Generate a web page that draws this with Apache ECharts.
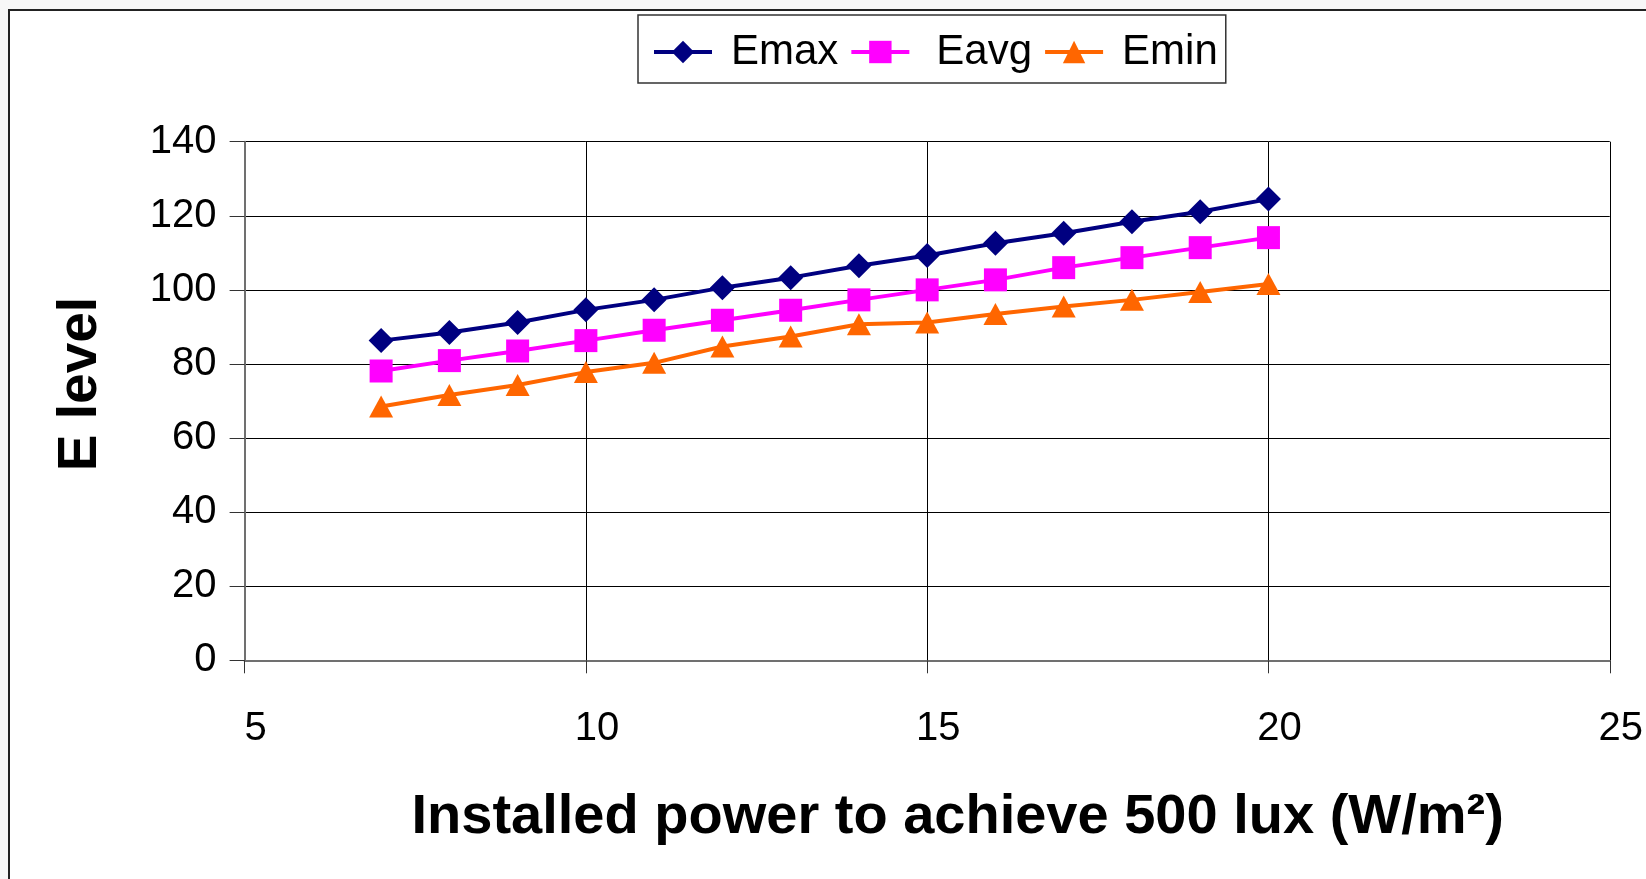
<!DOCTYPE html>
<html>
<head>
<meta charset="utf-8">
<script src="https://cdn.jsdelivr.net/npm/echarts@6/dist/echarts.min.js"></script>
<style>
html,body{margin:0;padding:0;background:#f7f7f7;}
#chart{width:1646px;height:879px;}
</style>
</head>
<body>
<div id="chart"></div>
<script>
const xValues = [7, 8, 9, 10, 11, 12, 13, 14, 15, 16, 17, 18, 19, 20];
const emax = [86.3, 88.5, 91.2, 94.6, 97.3, 100.6, 103.3, 106.5, 109.3, 112.6, 115.3, 118.4, 121.1, 124.5];
const eavg = [78.1, 80.9, 83.5, 86.3, 89.1, 91.8, 94.5, 97.3, 100.0, 102.7, 106.0, 108.7, 111.4, 114.1];
const emin = [68.5, 71.6, 74.3, 77.8, 80.3, 84.7, 87.4, 90.7, 91.2, 93.5, 95.5, 97.3, 99.4, 101.6];
const seriesNames = ['Emax', 'Eavg', 'Emin'];
const xTitle = 'Installed power to achieve 500 lux (W/m\u00B2)';
const yTitle = 'E level';

const FONT = '"Liberation Sans", Arial, sans-serif';
function pairs(ys) { return xValues.map((x, i) => [x, ys[i]]); }

const chart = echarts.init(document.getElementById('chart'), null, {renderer: 'canvas'});
chart.setOption({
  backgroundColor: '#f7f7f7',
  animation: false,
  graphic: [{
    type: 'rect', z: -10, silent: true,
    shape: {x: 9, y: 10, width: 1800, height: 1000},
    style: {fill: '#ffffff', stroke: '#222222', lineWidth: 2}
  }],
  legend: {
    left: 638, top: 15,
    padding: [16, 8, 10, 14],
    borderColor: '#333', borderWidth: 1.5,
    backgroundColor: '#fff',
    itemWidth: 58, itemHeight: 28, itemGap: 11,
    lineStyle: {width: 4},
    textStyle: {fontFamily: FONT, fontSize: 42, color: '#000'},
    data: [
      {name: 'Emax', textStyle: {padding: [0, 0, 0, 14]}},
      {name: 'Eavg', textStyle: {padding: [0, 0, 0, 22]}},
      {name: 'Emin', textStyle: {padding: [0, 0, 0, 14]}}
    ]
  },
  grid: {left: 244.6, right: 31.5, top: 141.7, bottom: 218.7, containLabel: false},
  xAxis: {
    type: 'value', min: 5, max: 25, interval: 5,
    name: xTitle, nameLocation: 'middle', nameGap: 129,
    nameTextStyle: {fontFamily: FONT, fontSize: 56, fontWeight: 'bold', color: '#000', padding: [0, 0, 0, 61]},
    axisLine: {show: true, onZero: false, lineStyle: {color: '#707070', width: 2}},
    axisTick: {show: true, inside: false, length: 13, lineStyle: {color: '#333', width: 1}},
    axisLabel: {fontFamily: FONT, fontSize: 40, color: '#000', margin: 49, padding: [0, 0, 0, 22]},
    splitLine: {show: true, lineStyle: {color: '#000', width: 1}}
  },
  yAxis: {
    type: 'value', min: 0, max: 140, interval: 20,
    name: yTitle, nameLocation: 'middle', nameGap: 136, nameRotate: 90,
    nameTextStyle: {fontFamily: FONT, fontSize: 55, fontWeight: 'bold', color: '#000', padding: [0, 0, 0, 34]},
    axisLine: {show: true, lineStyle: {color: '#707070', width: 2}},
    axisTick: {show: true, inside: false, length: 15, lineStyle: {color: '#333', width: 1}},
    axisLabel: {fontFamily: FONT, fontSize: 40, color: '#000', margin: 28},
    splitLine: {show: true, lineStyle: {color: '#000', width: 1}}
  },
  series: [
    {name: seriesNames[0], type: 'line', data: pairs(emax), symbol: 'diamond', symbolSize: [25, 25],
      itemStyle: {color: '#000080'}, lineStyle: {color: '#000080', width: 4}},
    {name: seriesNames[1], type: 'line', data: pairs(eavg), symbol: 'rect', symbolSize: 23,
      itemStyle: {color: '#FF00FF'}, lineStyle: {color: '#FF00FF', width: 4}},
    {name: seriesNames[2], type: 'line', data: pairs(emin), symbol: 'triangle', symbolSize: [24, 22],
      itemStyle: {color: '#FF6600'}, lineStyle: {color: '#FF6600', width: 4}}
  ]
});
</script>
</body>
</html>
